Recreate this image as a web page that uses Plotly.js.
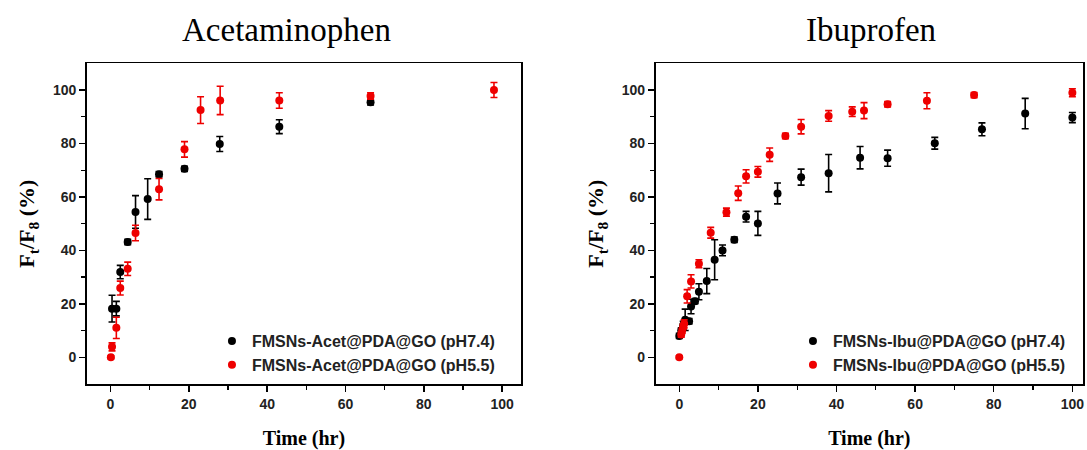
<!DOCTYPE html>
<html>
<head>
<meta charset="utf-8">
<script src="https://cdn.plot.ly/plotly-3.0.1.min.js"></script>
<style>html,body{margin:0;padding:0;background:#fff}#chart{width:1087px;height:450px}</style>
</head>
<body>
<div id="chart"></div>
<script>
// Acetaminophen
const acetTime74 = [0.4, 1.5, 2.5, 4.4, 6.4, 9.5, 12.4, 18.9, 27.9, 43.1, 66.4];
const acetRel74  = [18.2, 18.2, 31.9, 43.1, 54.4, 59.2, 68.5, 70.5, 79.8, 86.3, 95.4];
const acetErr74  = [5, 2.7, 2.5, 1, 6.1, 7.6, 1, 1, 2.8, 2.6, 1];
const acetTime55 = [0.1, 0.4, 1.5, 2.5, 4.4, 6.4, 12.4, 18.9, 23, 28, 43.1, 66.4, 97.9];
const acetRel55  = [0, 3.9, 11, 25.9, 33.1, 46.5, 62.9, 77.8, 92.5, 96.1, 96.1, 97.8, 100];
const acetErr55  = [0.5, 1.5, 4, 2.6, 2.5, 2.9, 4, 2.9, 5, 5.3, 2.9, 1.2, 2.8];
// Ibuprofen
const ibuTime74 = [0, 0.5, 1, 1.5, 2.5, 3, 4, 5, 7, 9, 11, 14, 17, 20, 25, 31, 38, 46, 53, 65, 77, 88, 100];
const ibuRel74  = [8, 10, 12, 14, 13.5, 19, 21, 24.5, 28.5, 36.5, 40, 44, 52.6, 50.1, 61.3, 67.4, 68.9, 74.7, 74.5, 80.1, 85.3, 91.2, 89.7];
const ibuErr74  = [1, 1, 1.5, 4, 1, 2.7, 1, 3, 4.7, 7.5, 2, 1, 2, 4.5, 3.9, 3, 7, 4.2, 3, 2.2, 2.4, 5.7, 1.9];
const ibuTime55 = [0, 0.5, 0.75, 1, 1.25, 2, 3, 5, 8, 12, 15, 17, 20, 23, 27, 31, 38, 44, 47, 53, 63, 75, 100];
const ibuRel55  = [0, 8.5, 10, 11.5, 12.5, 22.8, 28.4, 35, 46.6, 54.3, 61.4, 67.7, 69.4, 75.8, 82.8, 86.3, 90.3, 91.9, 92.3, 94.7, 96, 98.1, 99];
const ibuErr55  = [0.5, 1, 1, 1, 1.5, 2.5, 2.5, 1.5, 2, 1.5, 2.7, 2.5, 2, 2.5, 1, 2.7, 2, 1.8, 3, 1, 3, 1, 1.5];

const names = {
  acet74: 'FMSNs-Acet@PDA@GO (pH7.4)',
  acet55: 'FMSNs-Acet@PDA@GO (pH5.5)',
  ibu74: 'FMSNs-Ibu@PDA@GO (pH7.4)',
  ibu55: 'FMSNs-Ibu@PDA@GO (pH5.5)'
};

const BLACK = '#000000', RED = '#ee0000';
function tr(x, y, e, name, color, xa, ya, leg) {
  return {
    type: 'scatter', mode: 'markers', x: x, y: y, name: name,
    xaxis: xa, yaxis: ya, legend: leg,
    marker: {color: color, size: 8, symbol: 'circle'},
    error_y: {type: 'data', array: e, visible: true, color: color, thickness: 1.6, width: 3.5}
  };
}
const data = [
  tr(acetTime74, acetRel74, acetErr74, names.acet74, BLACK, 'x', 'y', 'legend'),
  tr(acetTime55, acetRel55, acetErr55, names.acet55, RED, 'x', 'y', 'legend'),
  tr(ibuTime74, ibuRel74, ibuErr74, names.ibu74, BLACK, 'x2', 'y2', 'legend2'),
  tr(ibuTime55, ibuRel55, ibuErr55, names.ibu55, RED, 'x2', 'y2', 'legend2')
];

const tickFont = {family: 'Liberation Sans, Arial, sans-serif', size: 14, color: '#222', weight: 'bold'};
const axTitleFont = {family: 'Liberation Serif, Times New Roman, serif', size: 20, color: '#000', weight: 'bold'};
function xax(dom, anchor, range) {
  return {
    domain: dom, anchor: anchor, range: range,
    showline: true, linecolor: '#000', linewidth: 1.8, mirror: true,
    ticks: 'outside', ticklen: 6, tickwidth: 1.5, tickcolor: '#000',
    tickvals: [0, 20, 40, 60, 80, 100],
    minor: {tickvals: [10, 30, 50, 70, 90], ticks: 'outside', ticklen: 4, tickwidth: 1.2, tickcolor: '#000'},
    showgrid: false, zeroline: false, tickfont: tickFont,
    title: {text: 'Time (hr)', font: axTitleFont, standoff: 22},
    automargin: false
  };
}
function yax(dom, anchor) {
  return {
    domain: dom, anchor: anchor, range: [-10, 110],
    showline: true, linecolor: '#000', linewidth: 1.8, mirror: true,
    ticks: 'outside', ticklen: 6, tickwidth: 1.5, tickcolor: '#000',
    tickvals: [0, 20, 40, 60, 80, 100],
    minor: {tickvals: [10, 30, 50, 70, 90], ticks: 'outside', ticklen: 4, tickwidth: 1.2, tickcolor: '#000'},
    showgrid: false, zeroline: false, tickfont: tickFont,
    title: {text: 'F<sub>t</sub>/F<sub>8</sub> (%)', font: {family: 'Liberation Serif, Times New Roman, serif', size: 22, color: '#000', weight: 'bold'}, standoff: 12},
    automargin: false
  };
}
const ydom = [0.1467, 0.8593];
const legFont = {family: 'Liberation Sans, Arial, sans-serif', size: 16, color: '#222', weight: 'bold'};
const layout = {
  width: 1087, height: 450,
  margin: {l: 0, r: 0, t: 0, b: 0},
  paper_bgcolor: '#fff', plot_bgcolor: '#fff',
  showlegend: true,
  xaxis: xax([0.0800, 0.4793], 'y', [-6, 104.8]),
  yaxis: yax(ydom, 'x'),
  xaxis2: xax([0.6032, 0.9963], 'y2', [-6, 102.7]),
  yaxis2: yax(ydom, 'x2'),
  legend: {x: 0.195, y: 0.28, xanchor: 'left', yanchor: 'top', bgcolor: 'rgba(0,0,0,0)', font: legFont, itemwidth: 30},
  legend2: {x: 0.7295, y: 0.28, xanchor: 'left', yanchor: 'top', bgcolor: 'rgba(0,0,0,0)', font: legFont, itemwidth: 30},
  annotations: [
    {text: 'Acetaminophen', xref: 'paper', yref: 'paper', x: 0.264, y: 1 - 30/450, xanchor: 'center', yanchor: 'middle', showarrow: false,
     font: {family: 'Liberation Serif, Times New Roman, serif', size: 33, color: '#000'}},
    {text: 'Ibuprofen', xref: 'paper', yref: 'paper', x: 0.801, y: 1 - 30/450, xanchor: 'center', yanchor: 'middle', showarrow: false,
     font: {family: 'Liberation Serif, Times New Roman, serif', size: 33, color: '#000'}}
  ]
};
Plotly.newPlot('chart', data, layout, {staticPlot: true});
</script>
</body>
</html>
